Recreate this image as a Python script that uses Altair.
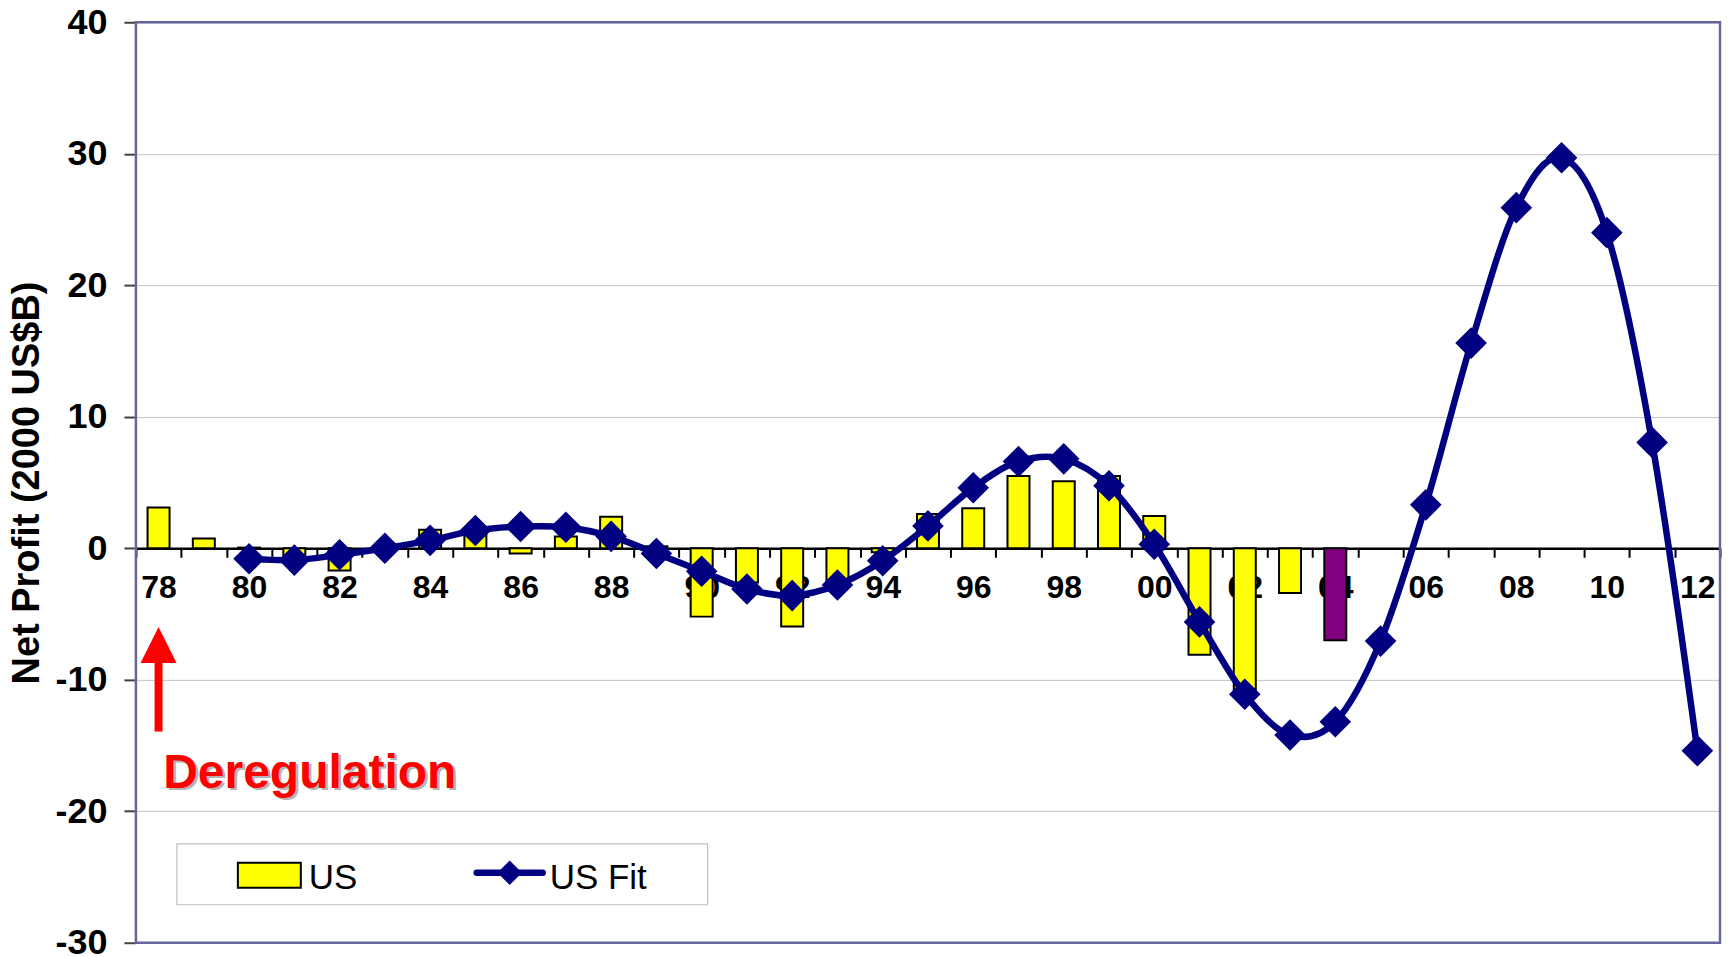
import altair as alt
import pandas as pd

# ---------------- data ----------------
years = ["78", "79", "80", "81", "82", "83", "84", "85", "86", "87", "88", "89",
         "90", "91", "92", "93", "94", "95", "96", "97", "98", "99",
         "00", "01", "02", "03", "04", "05", "06", "07", "08", "09", "10", "11", "12"]

us_years = years[:27]  # 78 .. 04
us_values = [3.1, 0.75, 0.05, -0.6, -1.7, -0.2, 1.4, 1.2, -0.4, 0.9, 2.4, 0.15,
             -5.2, -2.6, -5.95, -2.7, -0.3, 2.6, 3.05, 5.5, 5.1, 5.5,
             2.45, -8.1, -10.9, -3.4, -7.0]
us_colors = ["#FFFF00"] * 26 + ["#800080"]

fit_years = years[2:]  # 80 .. 12
fit_values = [-0.8, -0.9, -0.5, 0.0, 0.6, 1.35, 1.65, 1.6, 0.9, -0.4,
              -1.75, -3.1, -3.6, -2.8, -0.95, 1.7, 4.6, 6.6, 6.8, 4.75,
              0.3, -5.6, -11.1, -14.2, -13.2, -7.06, 3.3, 15.6, 25.9, 29.7,
              24.0, 8.05, -15.4]

y_ticks = [-30, -20, -10, 0, 10, 20, 30, 40]
y_title = "Net Profit (2000 US$B)"

arrow_year = ["78"]
arrow_head = [-7.35]
arrow_shaft = [-8.5, -13.94]
annotation_text = "Deregulation"
legend_labels = ["US", "US Fit"]

# ---------------- tables ----------------
bars_df = pd.DataFrame({"yr": us_years, "value": us_values, "fill": us_colors})
fit_df = pd.DataFrame({"yr": fit_years, "value": fit_values})
arrow_df = pd.DataFrame({"yr": arrow_year, "value": arrow_shaft[:1], "value2": arrow_shaft[1:]})
head_df = pd.DataFrame({"yr": arrow_year, "value": arrow_head})
one = pd.DataFrame({"k": [0]})

FONT = "Liberation Sans"
NAVY = "#000080"
W, H = 1585, 921

x_axis = alt.Axis(
    orient="bottom", offset=-394.7, title=None, grid=False,
    domainColor="black", domainWidth=2.5,
    tickBand="extent", tickColor="black", tickSize=9, tickWidth=2,
    labelExpr="toNumber(datum.value) % 2 == 0 ? datum.value : ''",
    labelAngle=0, labelFont=FONT, labelFontWeight="bold", labelFontSize=32,
    labelColor="black", labelPadding=15, labelOverlap=False,
)
X = alt.X("yr:N", sort=years,
          scale=alt.Scale(domain=years, paddingInner=0, paddingOuter=0),
          axis=x_axis)

y_axis = alt.Axis(
    values=y_ticks, grid=True, gridColor="#C4C4C4", gridWidth=1,
    domain=False, tickSize=12, tickColor="#404040", tickWidth=2,
    labelExpr="'' + datum.value",
    labelFont=FONT, labelFontWeight="bold", labelFontSize=36, labelColor="black",
    labelPadding=17,
    title=y_title, titleFont=FONT, titleFontWeight="bold", titleFontSize=38,
    titleColor="black", titleX=-97, titleY=460.5, titleBaseline="alphabetic",
    titleAlign="center",
)
Y = alt.Y("value:Q", scale=alt.Scale(domain=[-30, 40], nice=False, zero=False), axis=y_axis)

bars = alt.Chart(bars_df).mark_bar(width=22, stroke="black", strokeWidth=2).encode(
    x=X, y=Y, fill=alt.Fill("fill:N", scale=None)
)

border = alt.Chart(one).mark_rect(fillOpacity=0, stroke="#66669C", strokeWidth=2.5).encode(
    x=alt.value(0), x2=alt.value(W), y=alt.value(0), y2=alt.value(H)
)

line = alt.Chart(fit_df).mark_line(
    color=NAVY, strokeWidth=6.5, interpolate="cardinal"
).encode(x=X, y=Y)

points = alt.Chart(fit_df).mark_point(
    shape="diamond", size=1000, filled=True, color=NAVY, opacity=1
).encode(x=X, y=Y)

shaft = alt.Chart(arrow_df).mark_rule(color="#FF0000", strokeWidth=8).encode(
    x=X, y=Y, y2="value2:Q"
)
head = alt.Chart(head_df).mark_point(
    shape="M0,-1L1,1L-1,1Z", size=1296, filled=True, color="#FF0000", opacity=1
).encode(x=X, y=Y)

dereg_shadow = alt.Chart(one).mark_text(
    text=annotation_text, font=FONT, fontWeight="bold", fontSize=48,
    color="#B4B4B4", align="left", baseline="alphabetic"
).encode(x=alt.value(29.8), y=alt.value(768.5))
dereg = alt.Chart(one).mark_text(
    text=annotation_text, font=FONT, fontWeight="bold", fontSize=48,
    color="#FF0000", align="left", baseline="alphabetic"
).encode(x=alt.value(27.3), y=alt.value(766))

# ---------------- legend (drawn by hand) ----------------
leg_box = alt.Chart(one).mark_rect(fill="white", stroke="#C0C0C0", strokeWidth=1.2).encode(
    x=alt.value(41), x2=alt.value(572), y=alt.value(822), y2=alt.value(883)
)
leg_swatch = alt.Chart(one).mark_rect(fill="#FFFF00", stroke="black", strokeWidth=2).encode(
    x=alt.value(102), x2=alt.value(165), y=alt.value(841), y2=alt.value(866)
)
leg_us = alt.Chart(one).mark_text(
    text=legend_labels[0], font=FONT, fontSize=35, color="black", align="left", baseline="alphabetic"
).encode(x=alt.value(173), y=alt.value(867))
leg_line = alt.Chart(one).mark_rule(color=NAVY, strokeWidth=6.5, strokeCap="round").encode(
    x=alt.value(341), x2=alt.value(407), y=alt.value(851)
)
leg_pt = alt.Chart(one).mark_point(shape="diamond", size=600, filled=True, color=NAVY, opacity=1).encode(
    x=alt.value(374), y=alt.value(851)
)
leg_fit = alt.Chart(one).mark_text(
    text=legend_labels[1], font=FONT, fontSize=35, color="black", align="left", baseline="alphabetic"
).encode(x=alt.value(414), y=alt.value(867))

chart = alt.layer(
    bars, border, line, points, shaft, head, dereg_shadow, dereg,
    leg_box, leg_swatch, leg_us, leg_line, leg_pt, leg_fit
).properties(
    width=W, height=H,
    autosize=alt.AutoSizeParams(type="none"),
    padding={"left": 128, "top": 14, "right": 2, "bottom": 14},
).configure_view(
    strokeWidth=0
).configure(background="white")

chart.save("out.html", embed_options={"renderer": "svg", "actions": False})
